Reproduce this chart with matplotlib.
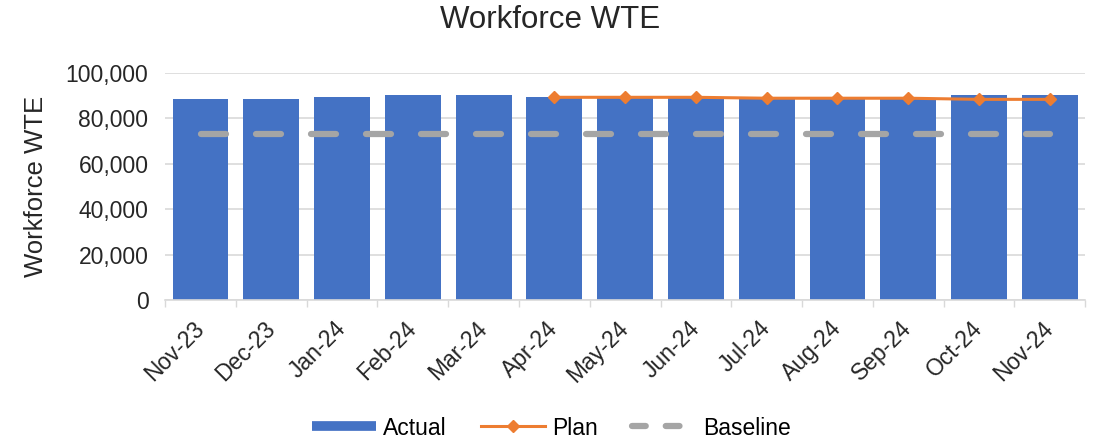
import matplotlib.pyplot as plt
from matplotlib.lines import Line2D
from matplotlib.ticker import FuncFormatter

plt.rcParams['font.family'] = ['Liberation Sans', 'DejaVu Sans']

months = ['Nov-23', 'Dec-23', 'Jan-24', 'Feb-24', 'Mar-24', 'Apr-24', 'May-24',
          'Jun-24', 'Jul-24', 'Aug-24', 'Sep-24', 'Oct-24', 'Nov-24']
actual = [88200, 88200, 89400, 90100, 90100, 89400, 88700,
          88700, 88200, 88200, 88200, 90100, 90100]
# plan starts in Apr-24
plan_months = months[5:]
plan = [89100, 89100, 89100, 88700, 88700, 88700, 88200, 88200]
baseline = [73000] * len(months)

txt = '#262626'
fig = plt.figure(figsize=(11.01, 4.44), dpi=100)
ax = fig.add_axes([0.150, 0.3243, 0.8356, 0.5124])

x = list(range(len(months)))
ax.bar(x, actual, width=0.79, color='#4472C4', zorder=2)
px = [months.index(m) for m in plan_months]
ax.plot(px, plan, color='#ED7D31', lw=2.2, marker='D', ms=6, zorder=4)
ax.plot(x, baseline, color='#A5A5A5', lw=4.5, dashes=(4, 4.8),
        dash_capstyle='round', zorder=3)

ax.set_xlim(-0.5, 12.5)
ax.set_ylim(0, 100000)
ax.set_yticks(range(0, 100001, 20000))
ax.yaxis.set_major_formatter(FuncFormatter(lambda v, p: f'{int(v):,}'))
ax.set_xticks(x)
ax.set_xticklabels(months, rotation=45, ha='right', va='center',
                   rotation_mode='anchor')
ax.set_xticks([i - 0.5 for i in range(len(months) + 1)], minor=True)
ax.tick_params(axis='both', which='major', length=0, labelsize=16.5, colors=txt)
ax.tick_params(axis='x', which='major', pad=18)
ax.tick_params(axis='y', pad=12)
ax.tick_params(axis='x', which='minor', length=5, color='#D9D9D9', width=1)
ax.grid(axis='y', color='#D9D9D9', lw=1.2, zorder=0)
for s in ['top', 'right', 'left']:
    ax.spines[s].set_visible(False)
ax.spines['bottom'].set_color('#D9D9D9')
ax.spines['bottom'].set_linewidth(1.2)

ax.set_ylabel('Workforce WTE', fontsize=18.5, color=txt)
ax.yaxis.set_label_coords(-0.127, 0.5)
fig.text(0.5, 1 - 20 / 444, 'Workforce WTE', fontsize=22.5, color=txt,
         ha='center', va='center')

handles = [
    Line2D([], [], color='#4472C4', lw=7, solid_capstyle='butt'),
    Line2D([], [], color='#ED7D31', lw=2.2, marker='D', ms=6),
    Line2D([], [], color='#A5A5A5', lw=4.5, dashes=(2.2, 3.2), dash_capstyle='round'),
]
fig.legend(handles, ['Actual', 'Plan', 'Baseline'], loc='center', ncol=3,
           frameon=False, fontsize=16.5, bbox_to_anchor=(0.501, 1 - 428 / 444),
           handlelength=2.8, columnspacing=1.5, handletextpad=0.3)

fig.savefig('out.png', dpi=100)
